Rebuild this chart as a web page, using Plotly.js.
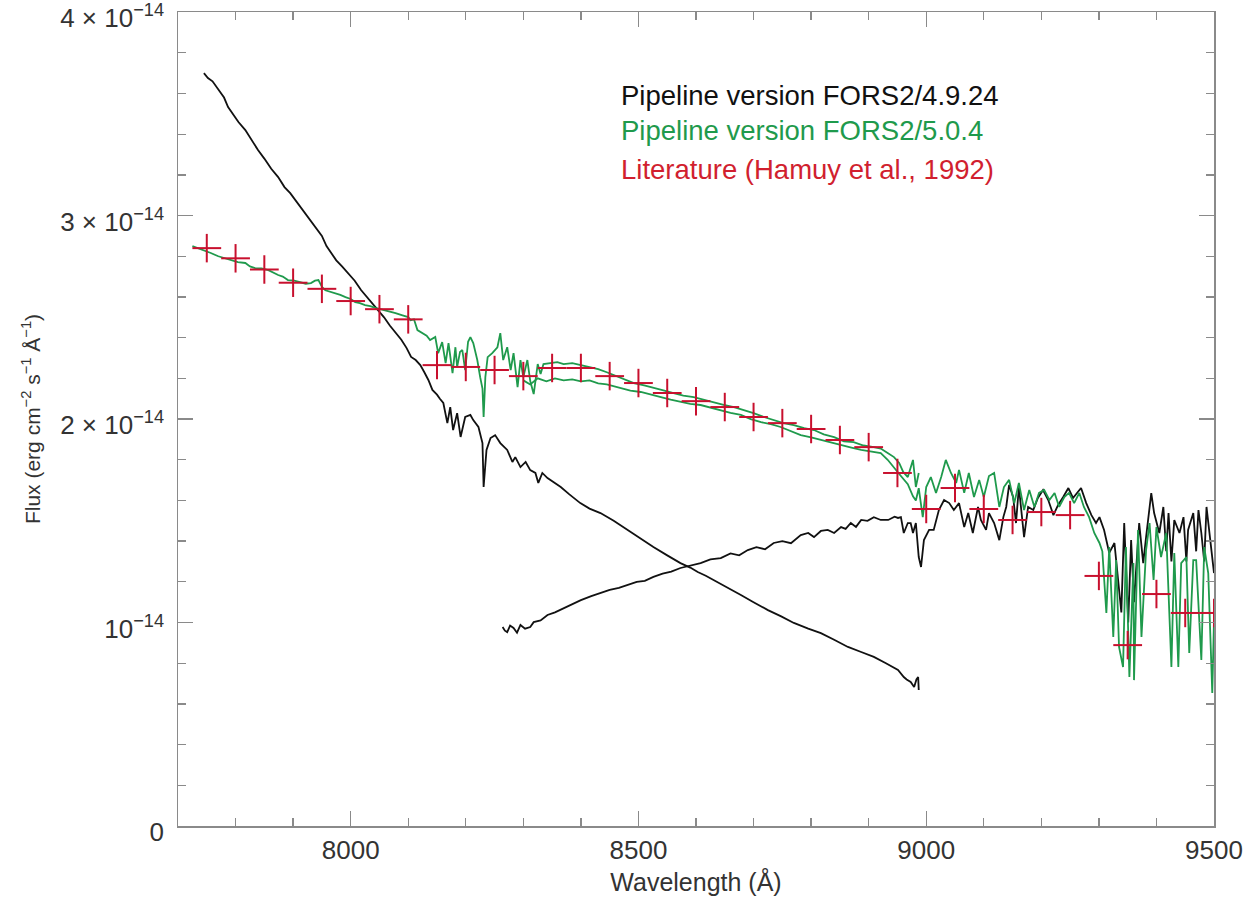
<!DOCTYPE html>
<html>
<head>
<meta charset="utf-8">
<script src="https://cdn.plot.ly/plotly-3.0.1.min.js"></script>
<style>html,body{margin:0;padding:0;background:#fff;}#chart{width:1246px;height:908px;}</style>
</head>
<body>
<div id="chart"></div>
<script>
// Flux values in units of 1e-14 erg cm^-2 s^-1 A^-1 ; wavelength in Angstrom
const black_old_chip1 = [[7745,3.70],[7748,3.69],[7752,3.676],[7760,3.66],[7770,3.617],[7780,3.58],[7787,3.533],[7795,3.50],[7805,3.46],[7817,3.420],[7828,3.37],[7839,3.322],[7850,3.28],[7862,3.23],[7874,3.189],[7885,3.14],[7895,3.11],[7904,3.076],[7915,3.03],[7927,2.99],[7938,2.944],[7950,2.90],[7958,2.85],[7966,2.816],[7975,2.78],[7985,2.75],[7996,2.717],[8007,2.68],[8018,2.634],[8028,2.60],[8038,2.57],[8048,2.536],[8058,2.50],[8068,2.46],[8078,2.423],[8088,2.39],[8097,2.35],[8105,2.305],[8113,2.29],[8121,2.265],[8128,2.23],[8135,2.192],[8142,2.143],[8150,2.12],[8155,2.10],[8161,2.079],[8168,1.980],[8173,2.059],[8178,1.946],[8185,2.029],[8191,1.912],[8199,2.010],[8208,2.020],[8213,1.995],[8222,1.961],[8229,1.882],[8231,1.666],[8236,1.848],[8243,1.907],[8251,1.921],[8260,1.882],[8272,1.848],[8281,1.789],[8286,1.813],[8295,1.764],[8304,1.789],[8312,1.749],[8321,1.735],[8326,1.686],[8333,1.735],[8342,1.710],[8352,1.690],[8365,1.666],[8380,1.63],[8399,1.587],[8415,1.56],[8434,1.538],[8457,1.50],[8481,1.455],[8503,1.41],[8526,1.371],[8550,1.33],[8573,1.292],[8590,1.27],[8603,1.248],[8617,1.23],[8631,1.209],[8655,1.17],[8678,1.135],[8700,1.10],[8725,1.061],[8748,1.03],[8770,0.998],[8795,0.97],[8817,0.948],[8840,0.915],[8864,0.880],[8887,0.855],[8909,0.831],[8930,0.80],[8951,0.767],[8961,0.732],[8966,0.72],[8973,0.708],[8979,0.683],[8983,0.72],[8986,0.732],[8987,0.668]];

const black_old_chip2 = [[8264,0.978],[8268,0.96],[8272,0.953],[8277,0.985],[8283,0.973],[8289,0.95],[8295,0.988],[8303,0.97],[8312,0.978],[8318,1.002],[8330,1.01],[8342,1.037],[8355,1.05],[8370,1.07],[8387,1.096],[8400,1.11],[8418,1.13],[8434,1.145],[8450,1.16],[8466,1.17],[8481,1.184],[8497,1.20],[8511,1.205],[8526,1.224],[8542,1.24],[8557,1.25],[8573,1.268],[8590,1.28],[8608,1.292],[8625,1.31],[8643,1.317],[8660,1.34],[8675,1.33],[8690,1.356],[8705,1.37],[8720,1.36],[8735,1.391],[8750,1.40],[8765,1.39],[8782,1.430],[8795,1.44],[8805,1.420],[8817,1.45],[8829,1.455],[8840,1.44],[8852,1.469],[8860,1.46],[8869,1.489],[8878,1.47],[8887,1.504],[8898,1.50],[8909,1.518],[8921,1.504],[8934,1.504],[8945,1.52],[8951,1.514],[8956,1.518],[8961,1.440],[8968,1.489],[8973,1.489],[8977,1.440],[8982,1.489],[8987,1.322],[8991,1.273],[8996,1.405],[9005,1.455],[9013,1.455],[9022,1.553],[9031,1.602],[9040,1.587],[9048,1.553],[9057,1.587],[9066,1.469],[9073,1.538],[9081,1.440],[9090,1.568],[9095,1.504],[9104,1.455],[9109,1.538],[9118,1.489],[9127,1.405],[9134,1.518],[9139,1.568],[9144,1.676],[9151,1.617],[9156,1.489],[9161,1.666],[9170,1.420],[9177,1.568],[9186,1.553],[9194,1.612],[9203,1.651],[9212,1.602],[9221,1.528],[9229,1.577],[9238,1.617],[9247,1.661],[9255,1.612],[9264,1.641],[9269,1.661],[9278,1.587],[9287,1.528],[9295,1.489],[9301,1.518],[9309,1.455],[9318,1.342],[9327,1.391],[9334,1.209],[9339,1.05],[9344,1.489],[9351,1.00],[9356,1.405],[9361,1.10],[9370,1.489],[9377,1.292],[9382,1.420],[9391,1.636],[9396,1.538],[9405,1.440],[9412,1.568],[9417,1.35],[9421,1.538],[9426,1.30],[9431,1.504],[9440,1.440],[9447,1.518],[9452,1.30],[9455,1.455],[9464,1.538],[9469,1.35],[9473,1.553],[9478,1.440],[9483,1.30],[9487,1.568],[9495,1.371],[9500,1.243]];

const green_new_chip1 = [[7725,2.85],[7735,2.840],[7745,2.83],[7757,2.816],[7770,2.80],[7782,2.791],[7793,2.78],[7804,2.771],[7817,2.767],[7825,2.75],[7834,2.742],[7845,2.74],[7857,2.732],[7865,2.72],[7874,2.708],[7882,2.70],[7891,2.683],[7902,2.68],[7914,2.673],[7922,2.665],[7931,2.668],[7938,2.68],[7944,2.683],[7950,2.65],[7956,2.633],[7965,2.625],[7973,2.619],[7982,2.61],[7991,2.599],[8000,2.59],[8008,2.575],[8016,2.57],[8025,2.560],[8034,2.555],[8043,2.546],[8052,2.54],[8060,2.536],[8069,2.53],[8078,2.521],[8090,2.51],[8100,2.501],[8104,2.486],[8110,2.49],[8116,2.437],[8126,2.422],[8132,2.41],[8138,2.388],[8147,2.403],[8152,2.324],[8159,2.378],[8165,2.275],[8170,2.373],[8177,2.226],[8182,2.353],[8185,2.255],[8190,2.33],[8194,2.339],[8199,2.241],[8204,2.38],[8208,2.403],[8213,2.373],[8220,2.290],[8225,2.206],[8229,2.15],[8231,2.010],[8234,2.206],[8238,2.304],[8246,2.324],[8255,2.353],[8260,2.422],[8265,2.290],[8272,2.353],[8278,2.241],[8283,2.324],[8290,2.157],[8295,2.290],[8300,2.206],[8307,2.290],[8312,2.187],[8318,2.123],[8325,2.270],[8330,2.221],[8335,2.270],[8347,2.275],[8359,2.28],[8370,2.27],[8385,2.275],[8400,2.265],[8415,2.255],[8430,2.245],[8445,2.23],[8458,2.215],[8469,2.206],[8480,2.19],[8492,2.177],[8510,2.165],[8526,2.152],[8545,2.14],[8561,2.128],[8578,2.115],[8596,2.108],[8613,2.095],[8631,2.084],[8648,2.07],[8666,2.059],[8683,2.045],[8700,2.029],[8718,2.01],[8735,1.995],[8752,1.98],[8770,1.970],[8788,1.955],[8805,1.946],[8822,1.925],[8840,1.911],[8857,1.89],[8874,1.887],[8891,1.87],[8909,1.862],[8921,1.855],[8933,1.833],[8944,1.813],[8953,1.784],[8960,1.74],[8968,1.715],[8977,1.799],[8982,1.666],[8987,1.735]];

const green_new_chip2 = [[8300,2.19],[8312,2.17],[8325,2.20],[8340,2.185],[8355,2.20],[8370,2.19],[8385,2.195],[8400,2.185],[8415,2.19],[8430,2.175],[8445,2.17],[8458,2.16],[8469,2.152],[8486,2.14],[8504,2.133],[8520,2.12],[8539,2.108],[8556,2.095],[8573,2.084],[8590,2.075],[8608,2.069],[8625,2.055],[8643,2.044],[8660,2.03],[8678,2.020],[8695,2.00],[8713,1.985],[8730,1.975],[8747,1.961],[8765,1.94],[8782,1.921],[8800,1.91],[8817,1.897],[8835,1.885],[8852,1.872],[8870,1.86],[8887,1.848],[8904,1.84],[8921,1.833],[8933,1.80],[8944,1.76],[8956,1.72],[8968,1.68],[8977,1.62],[8982,1.60],[8987,1.66],[8994,1.518],[9000,1.666],[9008,1.715],[9017,1.637],[9026,1.715],[9034,1.799],[9043,1.735],[9052,1.686],[9057,1.750],[9066,1.637],[9074,1.735],[9083,1.617],[9092,1.701],[9100,1.617],[9109,1.720],[9118,1.735],[9127,1.568],[9135,1.666],[9144,1.701],[9153,1.587],[9161,1.686],[9170,1.553],[9179,1.651],[9188,1.568],[9196,1.637],[9205,1.651],[9214,1.602],[9223,1.637],[9231,1.568],[9240,1.617],[9248,1.637],[9257,1.587],[9266,1.637],[9274,1.568],[9283,1.518],[9292,1.440],[9301,1.391],[9306,1.35],[9313,1.047],[9318,1.371],[9325,0.929],[9330,1.307],[9335,0.880],[9342,0.781],[9347,1.371],[9353,0.732],[9360,1.292],[9361,0.717],[9368,1.455],[9374,0.929],[9382,1.356],[9388,1.489],[9395,1.209],[9400,1.469],[9408,1.322],[9417,1.440],[9426,0.781],[9431,1.342],[9438,0.781],[9443,1.292],[9452,1.322],[9457,0.850],[9464,1.307],[9469,1.307],[9478,0.816],[9483,1.371],[9490,1.243],[9497,0.654],[9500,1.012]];

const lit_wavelength = [7750,7800,7850,7900,7950,8000,8050,8100,8150,8200,8250,8300,8350,8400,8450,8500,8550,8600,8650,8700,8750,8800,8850,8900,8950,9000,9050,9100,9150,9200,9250,9300,9350,9400,9450,9500];
const lit_flux = [2.84,2.79,2.735,2.67,2.64,2.58,2.54,2.49,2.265,2.256,2.241,2.211,2.251,2.251,2.211,2.177,2.128,2.088,2.059,2.010,1.980,1.951,1.897,1.862,1.735,1.558,1.661,1.558,1.504,1.543,1.528,1.229,0.889,1.140,1.047,1.047];

const legend_labels = ['Pipeline version FORS2/4.9.24','Pipeline version FORS2/5.0.4','Literature (Hamuy et al., 1992)'];
const ytick_vals = [0,1,2,3,4];
const ytick_text = ['0','10<sup>−14</sup>','2 × 10<sup>−14</sup>','3 × 10<sup>−14</sup>','4 × 10<sup>−14</sup>'];
const xtick_vals = [8000,8500,9000,9500];

const BLACK = '#111111', GREEN = '#1f9a4c', RED = '#c8102e';
const NB = '\u00A0';
const xs = a => a.map(p => p[0]);
const ys = a => a.map(p => p[1]);
function line(d, c){ return {x: xs(d), y: ys(d), type:'scatter', mode:'lines', line:{color:c, width:1.8}, showlegend:false, hoverinfo:'skip'}; }

const traces = [
  line(black_old_chip1, BLACK),
  line(black_old_chip2, BLACK),
  line(green_new_chip1, GREEN),
  line(green_new_chip2, GREEN),
  {x: lit_wavelength, y: lit_flux, type:'scatter', mode:'markers',
   marker:{size:1, color:'rgba(0,0,0,0)'},
   error_x:{type:'constant', value:25, color:RED, thickness:2, width:0},
   error_y:{type:'constant', value:0.07, color:RED, thickness:2, width:0},
   showlegend:false, hoverinfo:'skip'}
];

const FONT = 'Liberation Sans, Arial, Helvetica, sans-serif';
const axisCommon = {showline:true, linecolor:'#8a8a8a', linewidth:1.5, mirror:'ticks', ticks:'inside',
  tickcolor:'#8a8a8a', tickwidth:1.3, ticklen:15, showgrid:false, zeroline:false, ticklabeloverflow:'allow'};

const layout = {
  width:1246, height:908,
  margin:{l:178, r:32, t:12, b:82},
  paper_bgcolor:'#fff', plot_bgcolor:'#fff',
  xaxis: Object.assign({}, axisCommon, {range:[7700,9500], tickvals:xtick_vals, ticktext:xtick_vals.map(String),
    tickfont:{family:FONT, size:26, color:'#333'},
    minor:{dtick:100, ticks:'inside', ticklen:8, tickcolor:'#8a8a8a', tickwidth:1.3},
    title:{text:'Wavelength (Å)', font:{family:FONT, size:25, color:'#333'}, standoff:10}}),
  yaxis: Object.assign({}, axisCommon, {range:[0,4.0005], tickvals:ytick_vals, ticktext:ytick_text.map(t => t + NB),
    tickfont:{family:FONT, size:26, color:'#333'}, ticklabelshift:6,
    minor:{dtick:0.2, ticks:'inside', ticklen:8, tickcolor:'#8a8a8a', tickwidth:1.3},
    title:{text:'Flux (erg cm<sup>−2</sup> s<sup>−1</sup> Å<sup>−1</sup>)', font:{family:FONT, size:21, color:'#333'}, standoff:14}}),
  annotations: [
    {text:legend_labels[0], font:{color:'#111', size:27.5, family:FONT}},
    {text:legend_labels[1], font:{color:GREEN, size:27.5, family:FONT}},
    {text:legend_labels[2], font:{color:'#d11f2f', size:27.5, family:FONT}}
  ].map((a,i)=>Object.assign(a,{xref:'paper', yref:'paper', x:0.426, y:[0.898,0.855,0.806][i], xanchor:'left', yanchor:'middle', showarrow:false}))
};

Plotly.newPlot('chart', traces, layout, {staticPlot:true, displayModeBar:false});
</script>
</body>
</html>
